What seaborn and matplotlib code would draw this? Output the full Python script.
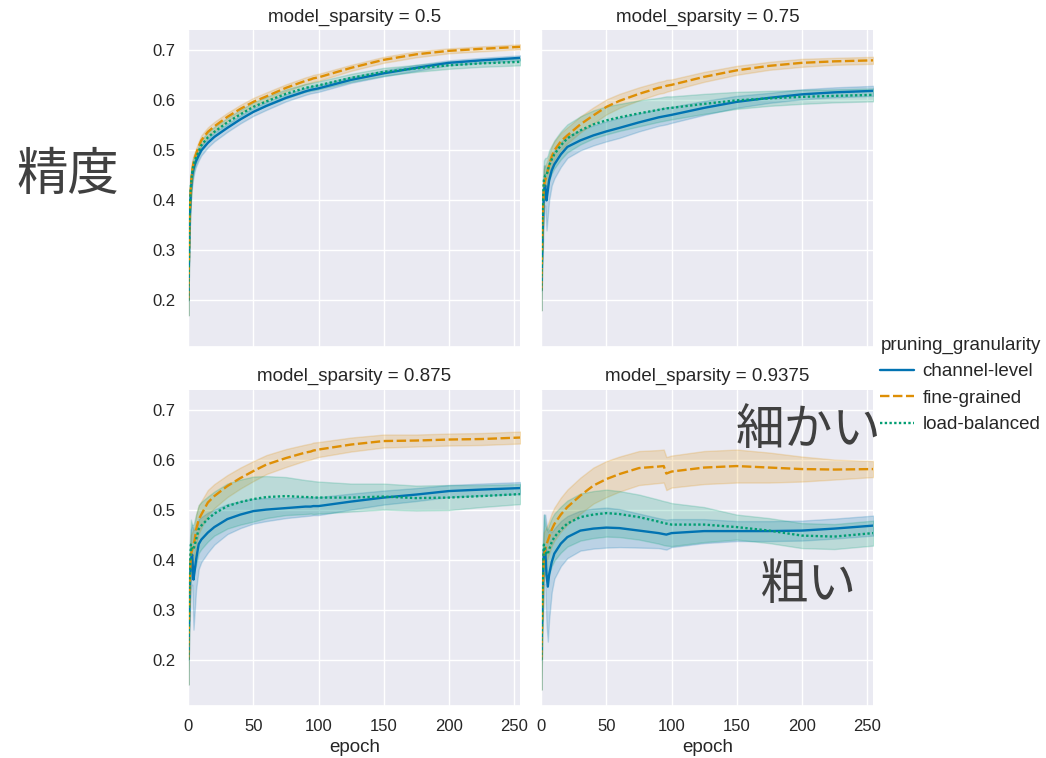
import numpy as np
import pandas as pd
import matplotlib
matplotlib.use("Agg")
import matplotlib.pyplot as plt
import seaborn as sns

# ---------------- data ----------------
EPOCHS = [0, 1, 2, 3, 4, 5, 6, 8, 10, 15, 20, 30, 40, 50, 60, 75, 90, 94, 96,
          100, 125, 150, 175, 200, 225, 255]
SPARSITIES = [0.5, 0.75, 0.875, 0.9375]
GRANULARITIES = ["channel-level", "fine-grained", "load-balanced"]

# sparsity 0.5
acc_050_channel = [0.20, 0.36, 0.42, 0.45, 0.463, 0.472, 0.479, 0.49, 0.50, 0.515, 0.527, 0.545, 0.562,
                   0.577, 0.589, 0.605, 0.618, 0.621, 0.622, 0.624, 0.641, 0.654, 0.665, 0.675, 0.680, 0.685]
acc_050_fine = [0.20, 0.37, 0.43, 0.46, 0.475, 0.485, 0.493, 0.508, 0.52, 0.537, 0.548, 0.567, 0.583,
                0.597, 0.608, 0.625, 0.639, 0.642, 0.644, 0.646, 0.665, 0.681, 0.692, 0.699, 0.703, 0.707]
acc_050_load = [0.20, 0.37, 0.43, 0.455, 0.47, 0.479, 0.486, 0.498, 0.51, 0.526, 0.537, 0.556, 0.572,
                0.587, 0.598, 0.613, 0.625, 0.627, 0.628, 0.630, 0.645, 0.657, 0.664, 0.670, 0.674, 0.677]
err_050_channel = [0.03, 0.03, 0.025, 0.02, 0.015, 0.012, 0.011, 0.01, 0.01, 0.009, 0.009, 0.008, 0.008,
                   0.008, 0.008, 0.007, 0.007, 0.007, 0.007, 0.007, 0.006, 0.006, 0.006, 0.005, 0.005, 0.005]
err_050_fine = [0.03, 0.03, 0.025, 0.02, 0.015, 0.012, 0.011, 0.01, 0.01, 0.009, 0.009, 0.008, 0.008,
                0.008, 0.008, 0.007, 0.007, 0.007, 0.007, 0.007, 0.006, 0.006, 0.006, 0.005, 0.005, 0.005]
err_050_load = [0.03, 0.03, 0.025, 0.02, 0.016, 0.013, 0.012, 0.011, 0.011, 0.01, 0.01, 0.009, 0.009,
                0.009, 0.009, 0.009, 0.008, 0.008, 0.008, 0.008, 0.008, 0.008, 0.007, 0.007, 0.007, 0.007]

# sparsity 0.75
acc_075_channel = [0.22, 0.33, 0.42, 0.43, 0.40, 0.42, 0.44, 0.46, 0.472, 0.492, 0.507, 0.52, 0.53,
                   0.538, 0.545, 0.556, 0.566, 0.568, 0.569, 0.571, 0.585, 0.597, 0.605, 0.612, 0.616, 0.619]
acc_075_fine = [0.22, 0.36, 0.43, 0.44, 0.45, 0.46, 0.47, 0.488, 0.50, 0.518, 0.53, 0.552, 0.57,
                0.587, 0.599, 0.613, 0.625, 0.627, 0.629, 0.631, 0.647, 0.660, 0.669, 0.675, 0.678, 0.680]
acc_075_load = [0.22, 0.38, 0.44, 0.45, 0.45, 0.46, 0.47, 0.482, 0.492, 0.51, 0.524, 0.54, 0.552,
                0.56, 0.566, 0.574, 0.581, 0.583, 0.584, 0.585, 0.593, 0.600, 0.604, 0.607, 0.609, 0.611]
err_075_channel = [0.04, 0.05, 0.05, 0.04, 0.06, 0.05, 0.04, 0.03, 0.028, 0.025, 0.022, 0.02, 0.02,
                   0.02, 0.02, 0.018, 0.017, 0.017, 0.017, 0.016, 0.014, 0.012, 0.01, 0.01, 0.01, 0.01]
err_075_fine = [0.04, 0.04, 0.035, 0.03, 0.025, 0.022, 0.02, 0.02, 0.018, 0.017, 0.016, 0.016, 0.016,
                0.015, 0.014, 0.013, 0.012, 0.012, 0.012, 0.011, 0.01, 0.009, 0.008, 0.008, 0.007, 0.007]
err_075_load = [0.04, 0.05, 0.04, 0.035, 0.035, 0.03, 0.03, 0.028, 0.028, 0.028, 0.028, 0.028, 0.028,
                0.028, 0.027, 0.026, 0.024, 0.024, 0.024, 0.023, 0.02, 0.017, 0.015, 0.014, 0.013, 0.013]

# sparsity 0.875
acc_0875_channel = [0.20, 0.33, 0.40, 0.41, 0.36, 0.38, 0.40, 0.431, 0.44, 0.454, 0.465, 0.481, 0.49,
                    0.497, 0.50, 0.503, 0.506, 0.506, 0.507, 0.507, 0.516, 0.524, 0.530, 0.537, 0.540, 0.543]
acc_0875_fine = [0.20, 0.35, 0.41, 0.42, 0.43, 0.44, 0.46, 0.48, 0.49, 0.514, 0.527, 0.547, 0.563,
                 0.577, 0.59, 0.603, 0.614, 0.616, 0.618, 0.620, 0.630, 0.637, 0.638, 0.640, 0.641, 0.644]
acc_0875_load = [0.20, 0.36, 0.43, 0.42, 0.42, 0.43, 0.44, 0.461, 0.468, 0.481, 0.492, 0.507, 0.515,
                 0.521, 0.525, 0.527, 0.525, 0.525, 0.524, 0.524, 0.524, 0.526, 0.523, 0.524, 0.527, 0.531]
err_0875_channel = [0.05, 0.06, 0.06, 0.06, 0.10, 0.08, 0.06, 0.05, 0.045, 0.04, 0.035, 0.03, 0.027,
                    0.025, 0.023, 0.02, 0.019, 0.018, 0.018, 0.018, 0.016, 0.014, 0.013, 0.012, 0.012, 0.012]
err_0875_fine = [0.05, 0.05, 0.04, 0.035, 0.03, 0.03, 0.03, 0.028, 0.027, 0.025, 0.024, 0.022, 0.021,
                 0.02, 0.019, 0.018, 0.016, 0.016, 0.016, 0.015, 0.014, 0.013, 0.012, 0.012, 0.012, 0.012]
err_0875_load = [0.05, 0.06, 0.05, 0.05, 0.05, 0.05, 0.05, 0.048, 0.047, 0.045, 0.044, 0.045, 0.045,
                 0.045, 0.042, 0.038, 0.034, 0.033, 0.033, 0.032, 0.028, 0.026, 0.025, 0.025, 0.022, 0.02]

# sparsity 0.9375
acc_09375_channel = [0.20, 0.33, 0.42, 0.42, 0.37, 0.346, 0.37, 0.395, 0.412, 0.432, 0.445, 0.458, 0.462,
                     0.464, 0.463, 0.458, 0.453, 0.451, 0.450, 0.453, 0.457, 0.457, 0.457, 0.458, 0.462, 0.468]
acc_09375_fine = [0.20, 0.33, 0.41, 0.42, 0.43, 0.438, 0.445, 0.46, 0.471, 0.49, 0.505, 0.528, 0.548,
                  0.561, 0.571, 0.583, 0.586, 0.587, 0.572, 0.576, 0.584, 0.587, 0.584, 0.581, 0.580, 0.581]
acc_09375_load = [0.20, 0.35, 0.43, 0.42, 0.41, 0.412, 0.42, 0.435, 0.445, 0.46, 0.472, 0.485, 0.49,
                  0.493, 0.491, 0.485, 0.476, 0.473, 0.472, 0.470, 0.470, 0.465, 0.458, 0.448, 0.446, 0.453]
err_09375_channel = [0.06, 0.07, 0.07, 0.07, 0.10, 0.11, 0.09, 0.06, 0.05, 0.045, 0.042, 0.04, 0.04,
                     0.04, 0.038, 0.034, 0.03, 0.03, 0.03, 0.028, 0.024, 0.02, 0.02, 0.02, 0.02, 0.02]
err_09375_fine = [0.06, 0.05, 0.045, 0.04, 0.035, 0.033, 0.033, 0.033, 0.033, 0.034, 0.035, 0.036, 0.036,
                  0.036, 0.035, 0.034, 0.033, 0.033, 0.033, 0.032, 0.033, 0.033, 0.03, 0.025, 0.02, 0.016]
err_09375_load = [0.06, 0.07, 0.06, 0.05, 0.05, 0.05, 0.05, 0.048, 0.047, 0.046, 0.046, 0.047, 0.047,
                  0.047, 0.046, 0.045, 0.044, 0.044, 0.044, 0.043, 0.035, 0.025, 0.025, 0.025, 0.025, 0.025]

MEANS = {
    0.5: [acc_050_channel, acc_050_fine, acc_050_load],
    0.75: [acc_075_channel, acc_075_fine, acc_075_load],
    0.875: [acc_0875_channel, acc_0875_fine, acc_0875_load],
    0.9375: [acc_09375_channel, acc_09375_fine, acc_09375_load],
}
ERRS = {
    0.5: [err_050_channel, err_050_fine, err_050_load],
    0.75: [err_075_channel, err_075_fine, err_075_load],
    0.875: [err_0875_channel, err_0875_fine, err_0875_load],
    0.9375: [err_09375_channel, err_09375_fine, err_09375_load],
}

rows = []
for sp in SPARSITIES:
    for gran, means, errs in zip(GRANULARITIES, MEANS[sp], ERRS[sp]):
        for ep, m, e in zip(EPOCHS, means, errs):
            for v in (m - e, m, m + e):
                rows.append({"epoch": ep, "accuracy": v,
                             "model_sparsity": sp, "pruning_granularity": gran})
df = pd.DataFrame(rows)

# ---------------- plot ----------------
sns.set_theme(style="darkgrid", palette="colorblind")
plt.rcParams["font.family"] = ["Liberation Sans", "Noto Sans CJK JP", "DejaVu Sans"]
plt.rcParams.update({
    "xtick.labelsize": 12, "ytick.labelsize": 12,
    "axes.labelsize": 13.5, "axes.titlesize": 13.5,
    "legend.fontsize": 13.5, "legend.title_fontsize": 13.5,
})

g = sns.relplot(data=df, x="epoch", y="accuracy", col="model_sparsity", col_wrap=2,
                hue="pruning_granularity", style="pruning_granularity",
                hue_order=GRANULARITIES, style_order=GRANULARITIES,
                kind="line", estimator="median", errorbar=("pi", 100),
                palette="colorblind", linewidth=1.7, height=3.3, aspect=1.05)

fig = g.figure
fig.set_size_inches(10.46, 7.58)
fig.subplots_adjust(left=0.18, right=0.835, top=0.96, bottom=0.069, wspace=0.063, hspace=0.136)

g.set(xlim=(0, 255), ylim=(0.108, 0.74), xticks=[0, 50, 100, 150, 200, 250],
      yticks=[0.2, 0.3, 0.4, 0.5, 0.6, 0.7])
g.set_axis_labels("epoch", "")
g.set_titles("model_sparsity = {col_name}")

sns.move_legend(g, "center left", bbox_to_anchor=(0.831, 0.492), frameon=False,
                handlelength=1.8, handletextpad=0.45, borderaxespad=0.2, borderpad=0.4)
g.legend._legend_box.align = "left"

jp = ["Noto Sans CJK JP", "DejaVu Sans"]
txt_color = "#404040"
fig.text(0.065, 0.769, "精度", fontsize=37, family=jp, color=txt_color, ha="center", va="center")
fig.text(0.7725, 0.433, "細かい", fontsize=35, family=jp, color=txt_color, ha="center", va="center")
fig.text(0.7734, 0.228, "粗い", fontsize=35, family=jp, color=txt_color, ha="center", va="center")

fig.savefig("out.png", dpi=100)
